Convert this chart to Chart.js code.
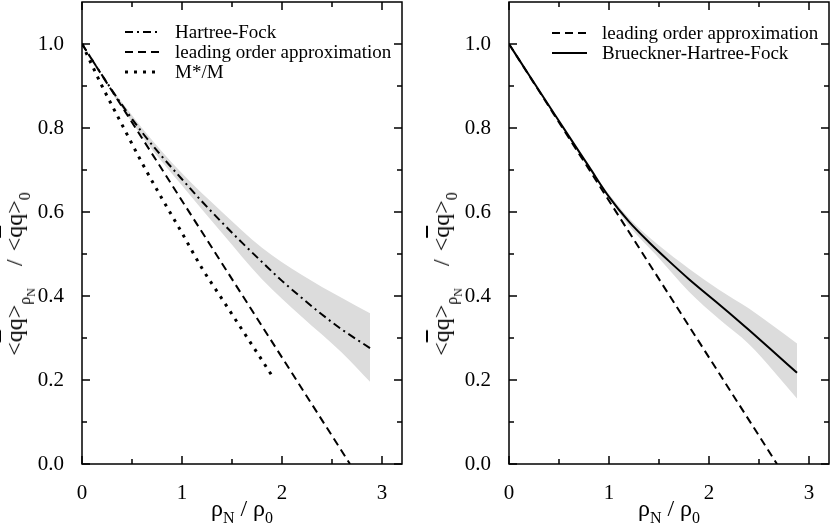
<!DOCTYPE html>
<html><head><meta charset="utf-8">
<script src="https://cdn.jsdelivr.net/npm/chart.js@4/dist/chart.umd.min.js"></script>
<style>
html,body{margin:0;padding:0;background:#fff;}
#wrap{position:relative;width:830px;height:527px;overflow:hidden;font-family:"Liberation Serif","Times New Roman",serif;color:#000;}
canvas{position:absolute;top:0;}
.ytitle{position:absolute;white-space:nowrap;font-size:24px;line-height:24px;transform:translate(-50%,-50%) rotate(-90deg);}
.xtitle{position:absolute;white-space:nowrap;font-size:24px;line-height:24px;transform:translate(-50%,0);}
.ov{text-decoration:overline;}
.s1{font-size:16px;position:relative;top:8px;}
.s2{font-size:12px;position:relative;top:5px;}
.gap{display:inline-block;width:22px;}
.gap2{display:inline-block;width:8px;}
.sx{font-size:16px;position:relative;top:7px;}
</style></head>
<body><div id="wrap">
<canvas id="c1" width="415" height="527" style="left:0;width:415px;height:527px"></canvas>
<canvas id="c2" width="403" height="527" style="left:427px;width:403px;height:527px"></canvas>
<div class="ytitle" style="left:16px;top:274px">&lt;<span class="ov">q</span>q&gt;<span class="s1">ρ<span class="s2">N</span></span><span class="gap"></span>/<span class="gap2"></span>&lt;<span class="ov">q</span>q&gt;<span class="s1">0</span></div>
<div class="ytitle" style="left:443px;top:274px">&lt;<span class="ov">q</span>q&gt;<span class="s1">ρ<span class="s2">N</span></span><span class="gap"></span>/<span class="gap2"></span>&lt;<span class="ov">q</span>q&gt;<span class="s1">0</span></div>
<div class="xtitle" style="left:242px;top:496px">ρ<span class="sx">N</span> / ρ<span class="sx">0</span></div>
<div class="xtitle" style="left:669px;top:496px">ρ<span class="sx">N</span> / ρ<span class="sx">0</span></div>
</div>
<script>
// ---- data ----
const xMajorTicks = [0, 1, 2, 3];
const xMinorTicks = [0.5, 1.5, 2.5];
const yMajorTicks = [0, 0.2, 0.4, 0.6, 0.8, 1.0];
const yMinorTicks = [0.1, 0.3, 0.5, 0.7, 0.9];

const densLO = [0, 2.68];
const leadingOrder = [1, 0];

const densHF = [0, 0.2, 0.4, 0.6, 0.8, 1.0, 1.2, 1.4, 1.6, 1.8, 2.0, 2.2, 2.4, 2.6, 2.88];
const hartreeFock = [1, 0.926, 0.855, 0.79, 0.732, 0.678, 0.625, 0.575, 0.527, 0.481, 0.436, 0.395, 0.356, 0.32, 0.276];

const densM = [0, 0.2, 0.4, 0.6, 0.8, 1.0, 1.2, 1.4, 1.6, 1.8, 1.9];
const effMass = [1, 0.9, 0.808, 0.717, 0.632, 0.55, 0.466, 0.393, 0.32, 0.247, 0.21];

const bandLeftX = [0.3, 0.6, 1.0, 1.4, 1.8, 2.2, 2.6, 2.88];
const bandLeftUpper = [0.892, 0.80, 0.692, 0.60, 0.515, 0.45, 0.395, 0.359];
const bandLeftLower = [0.882, 0.78, 0.663, 0.55, 0.44, 0.35, 0.265, 0.196];

const densBHF = [0, 0.2, 0.4, 0.6, 0.8, 1.0, 1.2, 1.4, 1.6, 1.8, 2.0, 2.2, 2.4, 2.6, 2.88];
const bruecknerHF = [1, 0.926, 0.853, 0.78, 0.708, 0.636, 0.577, 0.528, 0.483, 0.44, 0.4, 0.36, 0.319, 0.277, 0.217];

const bandRightX = [0.9, 1.2, 1.5, 1.8, 2.1, 2.4, 2.88];
const bandRightUpper = [0.672, 0.585, 0.52, 0.465, 0.415, 0.37, 0.287];
const bandRightLower = [0.668, 0.567, 0.49, 0.41, 0.345, 0.285, 0.156];

const legendLeft = ["Hartree-Fock", "leading order approximation", "M*/M"];
const legendRight = ["leading order approximation", "Brueckner-Hartree-Fock"];

// ---- helpers ----
const pts = (xs, ys) => xs.map((x, i) => ({x, y: ys[i]}));
const DASHDOT = [8, 4, 2, 4];
const DASH = [8, 5];
const DOT = [3, 6];
const FONT = '"Liberation Serif","Times New Roman",serif';

function lineDS(label, xs, ys, dash, width) {
  return {label, data: pts(xs, ys), borderColor: '#000', borderWidth: width || 2,
    borderDash: dash, pointRadius: 0, fill: false, cubicInterpolationMode: 'monotone', order: 0};
}
function bandDS(xs, up, lo) {
  return [
    {label: 'bandU', data: pts(xs, up), borderWidth: 0, borderColor: 'rgba(0,0,0,0)', pointRadius: 0,
     backgroundColor: '#dcdcdc', fill: '+1', cubicInterpolationMode: 'monotone', order: 10},
    {label: 'bandL', data: pts(xs, lo), borderWidth: 0, borderColor: 'rgba(0,0,0,0)', pointRadius: 0,
     fill: false, cubicInterpolationMode: 'monotone', order: 11}
  ];
}

const frameTicks = {
  id: 'frameTicks',
  afterDatasetsDraw(chart) {
    const {ctx, chartArea: a, scales: {x, y}} = chart;
    ctx.save();
    ctx.setLineDash([]);
    ctx.strokeStyle = '#000';
    ctx.lineWidth = 1.5;
    ctx.beginPath();
    const tx = (v, L) => { const p = x.getPixelForValue(v);
      ctx.moveTo(p, a.bottom); ctx.lineTo(p, a.bottom - L);
      ctx.moveTo(p, a.top); ctx.lineTo(p, a.top + L); };
    const ty = (v, L) => { const p = y.getPixelForValue(v);
      ctx.moveTo(a.left, p); ctx.lineTo(a.left + L, p);
      ctx.moveTo(a.right, p); ctx.lineTo(a.right - L, p); };
    xMajorTicks.forEach(v => tx(v, 8)); xMinorTicks.forEach(v => tx(v, 5));
    yMajorTicks.forEach(v => ty(v, 8)); yMinorTicks.forEach(v => ty(v, 5));
    ctx.stroke();
    ctx.strokeRect(a.left, a.top, a.right - a.left, a.bottom - a.top);
    // legend
    const lg = chart.options.plugins.customLegend;
    ctx.font = '19px ' + FONT;
    ctx.fillStyle = '#000';
    ctx.textBaseline = 'middle';
    lg.items.forEach((it, i) => {
      const yy = lg.y + i * 20;
      ctx.beginPath();
      ctx.lineWidth = it.w || 2;
      ctx.setLineDash(it.dash);
      ctx.moveTo(lg.x1, yy); ctx.lineTo(lg.x2, yy);
      ctx.stroke();
      ctx.setLineDash([]);
      ctx.fillText(it.text, lg.tx, yy + 1);
    });
    ctx.restore();
  }
};

function makeOptions(padRight, legend) {
  return {
    responsive: false, animation: false, devicePixelRatio: 1,
    layout: {padding: {top: 2, right: padRight, left: 0, bottom: 0}},
    plugins: {legend: {display: false}, tooltip: {enabled: false}, customLegend: legend},
    scales: {
      x: {type: 'linear', min: 0, max: 3.2,
        grid: {display: false}, border: {display: false},
        afterBuildTicks: s => { s.ticks = xMajorTicks.map(v => ({value: v})); },
        afterFit: s => { s.height = 63; s.paddingLeft = 0; s.paddingRight = 0; },
        ticks: {autoSkip: false, maxRotation: 0, color: '#000', padding: 9,
          font: {family: FONT, size: 21}, callback: v => String(v)}},
      y: {type: 'linear', min: 0, max: 1.1,
        grid: {display: false}, border: {display: false},
        afterBuildTicks: s => { s.ticks = yMajorTicks.map(v => ({value: v})); },
        afterFit: s => { s.width = 82; s.paddingTop = 0; s.paddingBottom = 0; },
        ticks: {autoSkip: false, color: '#000', padding: 10,
          font: {family: FONT, size: 21}, callback: v => Number(v).toFixed(1)}}
    }
  };
}

new Chart(document.getElementById('c1'), {
  type: 'line',
  data: {datasets: [
    lineDS(legendLeft[0], densHF, hartreeFock, DASHDOT),
    lineDS(legendLeft[1], densLO, leadingOrder, DASH),
    lineDS(legendLeft[2], densM, effMass, DOT, 3),
    ...bandDS(bandLeftX, bandLeftUpper, bandLeftLower)
  ]},
  options: makeOptions(13, {x1: 125, x2: 160, tx: 175, y: 32, items: [
    {text: legendLeft[0], dash: DASHDOT}, {text: legendLeft[1], dash: DASH}, {text: legendLeft[2], dash: DOT, w: 3}]}),
  plugins: [frameTicks]
});

new Chart(document.getElementById('c2'), {
  type: 'line',
  data: {datasets: [
    lineDS(legendRight[0], densLO, leadingOrder, DASH),
    lineDS(legendRight[1], densBHF, bruecknerHF, []),
    ...bandDS(bandRightX, bandRightUpper, bandRightLower)
  ]},
  options: makeOptions(1, {x1: 125, x2: 160, tx: 175, y: 33, items: [
    {text: legendRight[0], dash: DASH}, {text: legendRight[1], dash: []}]}),
  plugins: [frameTicks]
});
</script>
</body></html>
